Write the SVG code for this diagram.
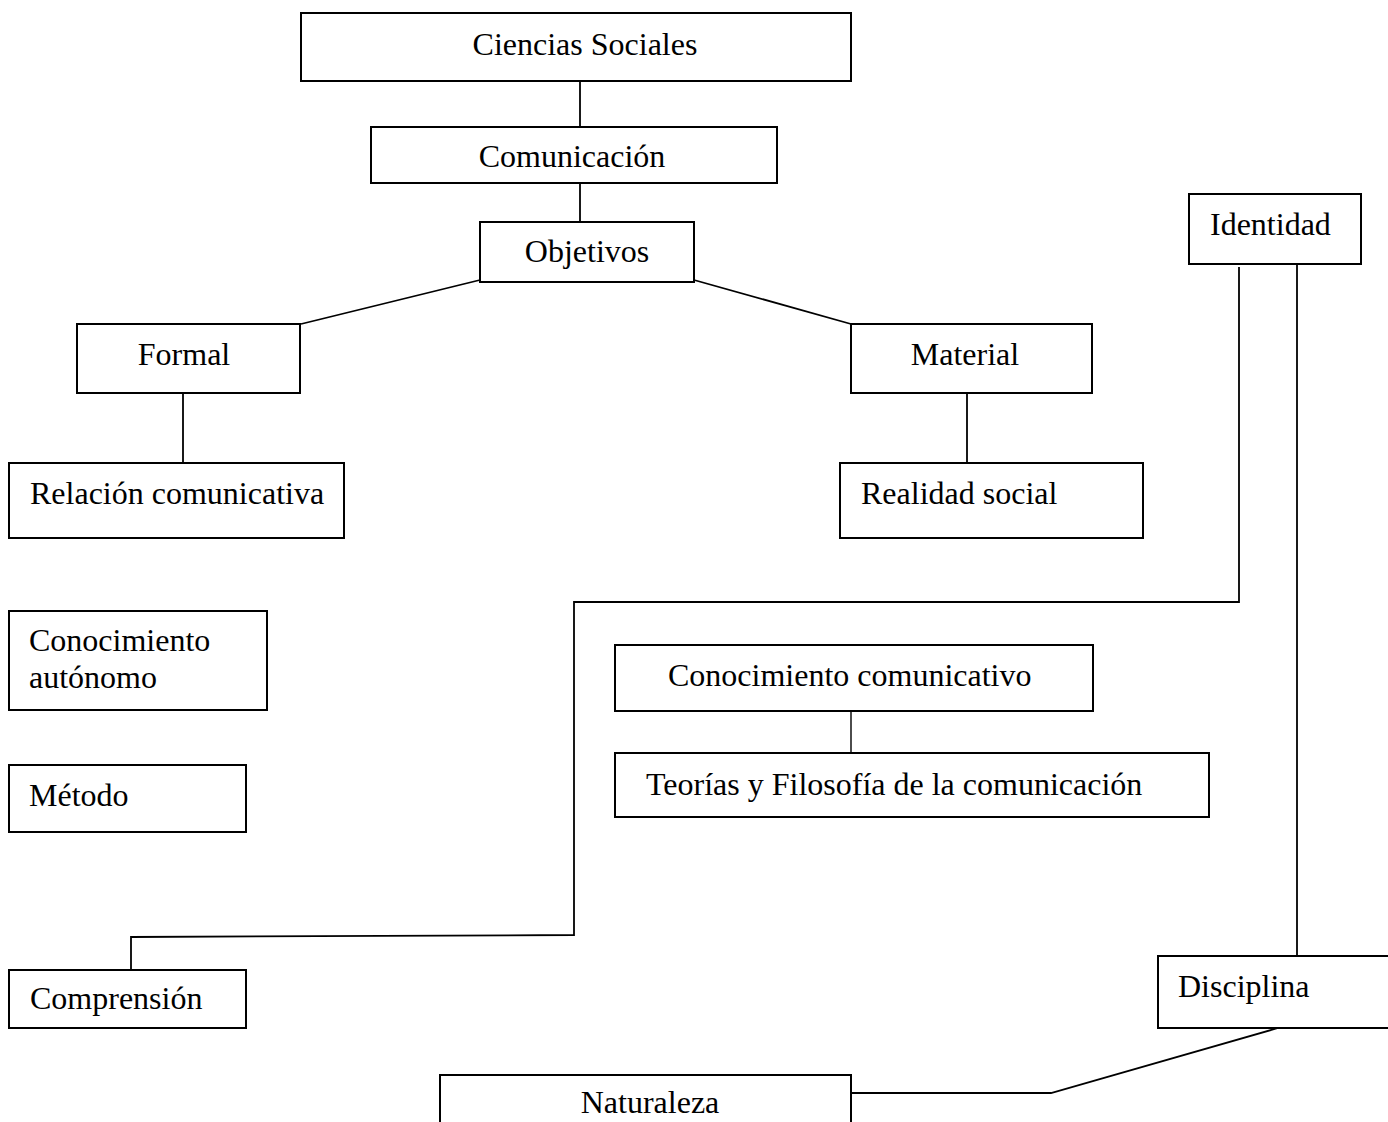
<svg xmlns="http://www.w3.org/2000/svg" width="1388" height="1122" viewBox="0 0 1388 1122">
<style>
.box{fill:#fff;stroke:#000;stroke-width:2}
.t{font-family:"Liberation Serif","Times New Roman",serif;font-size:32px;fill:#000}
.c{text-anchor:middle}
.ln{fill:none;stroke:#000;stroke-width:1.8}
</style>
<rect width="1388" height="1122" fill="#fff"/>
<g id="connectors">
<line class="ln" x1="580" y1="79" x2="580" y2="130"/>
<line class="ln" x1="580" y1="183" x2="580" y2="225"/>
<line class="ln" x1="480" y1="280" x2="301" y2="324"/>
<line class="ln" x1="694" y1="280" x2="851" y2="324"/>
<line class="ln" x1="183" y1="393" x2="183" y2="463"/>
<line class="ln" x1="967" y1="393" x2="967" y2="463"/>
<line class="ln" x1="851" y1="707" x2="851" y2="757" style="stroke-width:1.4"/>
<polyline class="ln" points="1239,267 1239,602 574,602 574,935 131,937 131,970"/>
<line class="ln" x1="1297" y1="265" x2="1297" y2="956"/>
<polyline class="ln" points="1278,1028 1051,1093 851,1093"/>
</g>
<g id="ciencias-sociales">
<rect class="box" x="301" y="13" width="550" height="68"/>
<text class="t c" x="585" y="55">Ciencias Sociales</text>
</g>
<g id="comunicacion">
<rect class="box" x="371" y="127" width="406" height="56"/>
<text class="t c" x="572" y="167">Comunicación</text>
</g>
<g id="objetivos">
<rect class="box" x="480" y="222" width="214" height="60"/>
<text class="t c" x="587" y="262">Objetivos</text>
</g>
<g id="formal">
<rect class="box" x="77" y="324" width="223" height="69"/>
<text class="t c" x="184" y="365">Formal</text>
</g>
<g id="material">
<rect class="box" x="851" y="324" width="241" height="69"/>
<text class="t c" x="965" y="365">Material</text>
</g>
<g id="relacion-comunicativa">
<rect class="box" x="9" y="463" width="335" height="75"/>
<text class="t" x="30" y="504">Relación comunicativa</text>
</g>
<g id="realidad-social">
<rect class="box" x="840" y="463" width="303" height="75"/>
<text class="t" x="861" y="504">Realidad social</text>
</g>
<g id="identidad">
<rect class="box" x="1189" y="194" width="172" height="70"/>
<text class="t" x="1210" y="235">Identidad</text>
</g>
<g id="conocimiento-autonomo">
<rect class="box" x="9" y="611" width="258" height="99"/>
<text class="t" x="29" y="651">Conocimiento</text>
<text class="t" x="29" y="688">autónomo</text>
</g>
<g id="metodo">
<rect class="box" x="9" y="765" width="237" height="67"/>
<text class="t" x="29" y="806">Método</text>
</g>
<g id="conocimiento-comunicativo">
<rect class="box" x="615" y="645" width="478" height="66"/>
<text class="t" x="668" y="686">Conocimiento comunicativo</text>
</g>
<g id="teorias">
<rect class="box" x="615" y="753" width="594" height="64"/>
<text class="t" x="646" y="795">Teorías y Filosofía de la comunicación</text>
</g>
<g id="comprension">
<rect class="box" x="9" y="970" width="237" height="58"/>
<text class="t" x="30" y="1009">Comprensión</text>
</g>
<g id="disciplina">
<rect class="box" x="1158" y="956" width="240" height="72"/>
<text class="t" x="1178" y="997">Disciplina</text>
</g>
<g id="naturaleza">
<rect class="box" x="440" y="1075" width="411" height="60"/>
<text class="t c" x="650" y="1113">Naturaleza</text>
</g>
</svg>
